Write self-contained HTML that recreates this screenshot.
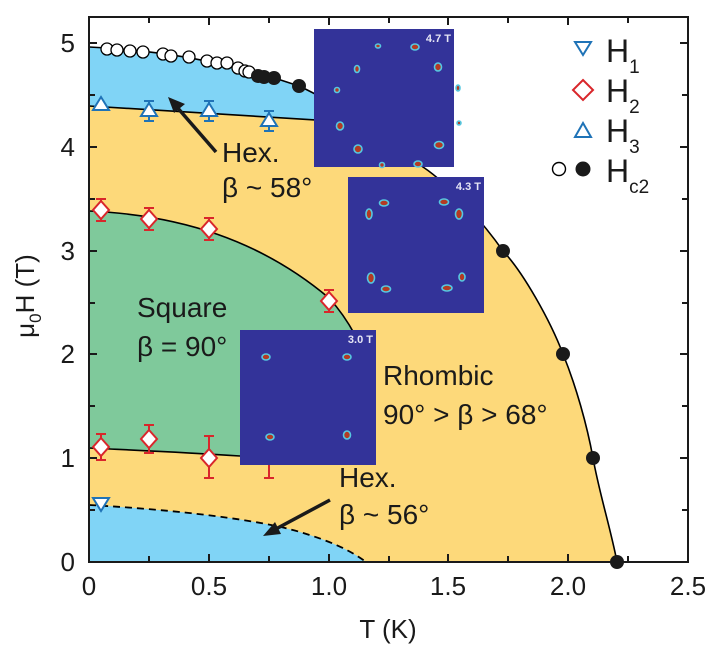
<!DOCTYPE html>
<html><head><meta charset="utf-8"><style>
html,body{margin:0;padding:0;background:#fff;}
svg{display:block;font-family:"Liberation Sans",Arial,sans-serif;}
</style></head><body>
<svg width="726" height="663" viewBox="0 0 726 663" xmlns="http://www.w3.org/2000/svg">
<defs>
<clipPath id="pc"><rect x="89" y="17" width="599" height="545"/></clipPath>
</defs>
<g clip-path="url(#pc)">
<path d="M89,47 Q200,52 299,86 C340,105 390,140 423,167 C450,185 485,225 503,251 C523,272 550,320 563,354 C576,386 587,425 593,458 C599,492 611,530 617,562 L89,562 Z" fill="#fdd97a"/>
<path d="M89,47 Q200,52 299,86 C340,105 390,140 423,167 L446,167 L446,128 L89,106 Z" fill="#80d4f6"/>
<path d="M89,211 C180,215 260,240 329,298 C340,310 348,322 355,335 L355,460 L240,456 C180,452 130,450 89,448 Z" fill="#7fc99b"/>
<path d="M89,505 C180,510 260,520 300,532 C330,541 350,550 366,562 L89,562 Z" fill="#80d4f6"/>
<path d="M89,47 Q200,52 299,86 C340,105 390,140 423,167 C450,185 485,225 503,251 C523,272 550,320 563,354 C576,386 587,425 593,458 C599,492 611,530 617,562" fill="none" stroke="#000" stroke-width="1.6"/>
<path d="M89,106 L446,128" fill="none" stroke="#000" stroke-width="1.6"/>
<path d="M89,211 C180,215 260,240 329,298 C340,310 348,322 355,335" fill="none" stroke="#000" stroke-width="1.6"/>
<path d="M89,448 C130,450 180,452 240,456" fill="none" stroke="#000" stroke-width="1.6"/>
<path d="M89,505 C180,510 260,520 300,532 C330,541 350,550 366,562" fill="none" stroke="#000" stroke-width="1.8" stroke-dasharray="7,5"/>
</g>
<g stroke="#000" stroke-width="1.3" fill="#fff">
<circle cx="107" cy="49" r="6"/><circle cx="117" cy="50" r="6"/><circle cx="130" cy="51" r="6"/><circle cx="143" cy="52" r="6"/><circle cx="163" cy="54" r="6"/><circle cx="171" cy="56" r="6"/><circle cx="189" cy="57" r="6"/><circle cx="207" cy="61" r="6"/><circle cx="217" cy="63" r="6"/><circle cx="227" cy="63" r="6"/><circle cx="238" cy="68" r="6"/><circle cx="245" cy="71" r="6"/><circle cx="249" cy="72" r="6"/>
</g>
<g fill="#1a1a1a">
<circle cx="258" cy="76" r="7"/><circle cx="264" cy="77" r="7"/><circle cx="274" cy="78" r="7"/><circle cx="299" cy="86" r="7"/>
<circle cx="503" cy="251" r="7"/><circle cx="563" cy="354" r="7"/><circle cx="593" cy="458" r="7"/><circle cx="617" cy="562" r="7"/>
</g>
<g stroke="#1f73b7" stroke-width="2" fill="#fff">
<path d="M144,101 h10 M149,101 v20 M144,121 h10 M204,101 h10 M209,101 v20 M204,121 h10 M264,111 h10 M269,111 v20 M264,131 h10"/>
<path d="M101,97 l8,13 h-16 z"/><path d="M149,103 l8,13 h-16 z"/><path d="M209,103 l8,13 h-16 z"/><path d="M269,113 l8,13 h-16 z"/>
</g>
<g stroke="#d9262b" stroke-width="2" fill="#fff">
<path d="M96,199 h10 M101,199 v22 M96,221 h10 M144,208 h10 M149,208 v22 M144,230 h10 M204,218 h10 M209,218 v22 M204,240 h10 M324,290 h10 M329,290 v22 M324,312 h10"/>
<path d="M96,434 h10 M101,434 v26 M96,460 h10 M144,425 h10 M149,425 v28 M144,453 h10 M204,436 h10 M209,436 v42 M204,478 h10 M264,420 h10 M269,420 v58 M264,478 h10"/>
<path d="M101,201 l8,9 l-8,9 l-8,-9 z"/><path d="M149,210 l8,9 l-8,9 l-8,-9 z"/><path d="M209,220 l8,9 l-8,9 l-8,-9 z"/><path d="M329,292 l8,9 l-8,9 l-8,-9 z"/>
<path d="M101,438 l8,9 l-8,9 l-8,-9 z"/><path d="M149,430 l8,9 l-8,9 l-8,-9 z"/><path d="M209,449 l8,9 l-8,9 l-8,-9 z"/>
</g>
<path d="M93,498 h16 l-8,13 z" fill="#fff" stroke="#1f73b7" stroke-width="2"/>
<g>
<rect x="314" y="29" width="140" height="138" fill="#333399"/>
<rect x="348" y="177" width="136" height="136" fill="#333399"/>
<rect x="240" y="330" width="136" height="135" fill="#333399"/>
<g fill="#b43a22" stroke="#56c8e0" stroke-width="1.6">
<ellipse cx="378" cy="46" rx="2.5" ry="2"/><ellipse cx="415" cy="47" rx="4" ry="3"/><ellipse cx="357" cy="69" rx="2.5" ry="3.5"/><ellipse cx="438" cy="67" rx="3.5" ry="4"/><ellipse cx="337" cy="90" rx="2.5" ry="2.5"/><ellipse cx="458" cy="88" rx="2" ry="3"/><ellipse cx="340" cy="126" rx="3.5" ry="4"/><ellipse cx="459" cy="123" rx="2" ry="2"/><ellipse cx="358" cy="149" rx="4" ry="4"/><ellipse cx="439" cy="145" rx="4.5" ry="3.5"/><ellipse cx="382" cy="165" rx="2.5" ry="2.5"/><ellipse cx="418" cy="164" rx="4" ry="3"/>
<ellipse cx="384" cy="203" rx="4.5" ry="3"/><ellipse cx="444" cy="202" rx="4.5" ry="3"/><ellipse cx="369" cy="214" rx="3" ry="5"/><ellipse cx="459" cy="214" rx="3.5" ry="5"/><ellipse cx="371" cy="278" rx="3.5" ry="5"/><ellipse cx="462" cy="277" rx="3" ry="4"/><ellipse cx="386" cy="289" rx="4.5" ry="3"/><ellipse cx="447" cy="288" rx="5" ry="3"/>
<ellipse cx="266" cy="357" rx="4" ry="3"/><ellipse cx="347" cy="357" rx="4" ry="3"/><ellipse cx="270" cy="437" rx="4" ry="3"/><ellipse cx="347" cy="435" rx="3.5" ry="4"/>
</g>
<g fill="#e6e6f5" font-size="11" font-weight="bold" text-anchor="end">
<text x="451" y="42">4.7 T</text><text x="481" y="190">4.3 T</text><text x="373" y="343">3.0 T</text>
</g>
</g>
<g stroke="#1a1a1a" stroke-width="3.5" fill="#1a1a1a">
<line x1="216" y1="152" x2="176" y2="106"/><path d="M168,97 l17,7 l-11,9 z" stroke="none"/>
<line x1="330" y1="500" x2="274" y2="530"/><path d="M263,536 l12,-14 l6,12 z" stroke="none"/>
</g>
<g fill="#1a1a1a" font-size="28">
<text x="222" y="162">Hex.</text><text x="222" y="197">β ~ 58°</text>
<text x="137" y="317">Square</text><text x="137" y="356">β = 90°</text>
<text x="383" y="385">Rhombic</text><text x="383" y="424">90° &gt; β &gt; 68°</text>
<text x="339" y="487">Hex.</text><text x="339" y="524">β ~ 56°</text>
</g>
<rect x="89" y="17" width="599" height="545" fill="none" stroke="#1a1a1a" stroke-width="2"/>
<g stroke="#1a1a1a" stroke-width="2">
<path d="M89,562 v-8 M149,562 v-6 M209,562 v-8 M269,562 v-6 M329,562 v-8 M389,562 v-6 M448,562 v-8 M508,562 v-6 M568,562 v-8 M628,562 v-6"/>
<path d="M149,17 v6 M209,17 v8 M269,17 v6 M329,17 v8 M389,17 v6 M448,17 v8 M508,17 v6 M568,17 v8 M628,17 v6"/>
<path d="M89,43 h8 M89,95 h6 M89,147 h8 M89,199 h6 M89,251 h8 M89,303 h6 M89,354 h8 M89,406 h6 M89,458 h8 M89,510 h6"/>
<path d="M688,43 h-8 M688,95 h-6 M688,147 h-8 M688,199 h-6 M688,251 h-8 M688,303 h-6 M688,354 h-8 M688,406 h-6 M688,458 h-8 M688,510 h-6"/>
</g>
<g fill="#1a1a1a" font-size="26" text-anchor="middle">
<text x="89" y="595">0</text><text x="209" y="595">0.5</text><text x="329" y="595">1.0</text><text x="448" y="595">1.5</text><text x="568" y="595">2.0</text><text x="688" y="595">2.5</text>
</g>
<g fill="#1a1a1a" font-size="26" text-anchor="end">
<text x="75" y="52">5</text><text x="75" y="156">4</text><text x="75" y="260">3</text><text x="75" y="363">2</text><text x="75" y="467">1</text><text x="75" y="571">0</text>
</g>
<text x="388" y="638" font-size="26" text-anchor="middle" fill="#1a1a1a">T (K)</text>
<text transform="translate(34,296) rotate(-90)" font-size="26" text-anchor="middle" fill="#1a1a1a">μ<tspan font-size="17" dy="7">0</tspan><tspan dy="-7">H (T)</tspan></text>
<path d="M575,42 h16 l-8,13 z" fill="#fff" stroke="#1f73b7" stroke-width="2"/>
<path d="M583,80 l10,10 l-10,10 l-10,-10 z" fill="#fff" stroke="#d9262b" stroke-width="2"/>
<path d="M583,123 l8,14 h-16 z" fill="#fff" stroke="#1f73b7" stroke-width="2"/>
<circle cx="559" cy="169" r="6.5" fill="#fff" stroke="#000" stroke-width="1.4"/>
<circle cx="583" cy="169" r="7.5" fill="#1a1a1a"/>
<g fill="#1a1a1a" font-size="32">
<text x="606" y="62">H<tspan font-size="19" dy="11">1</tspan></text>
<text x="606" y="102">H<tspan font-size="19" dy="11">2</tspan></text>
<text x="606" y="142">H<tspan font-size="19" dy="11">3</tspan></text>
<text x="606" y="182">H<tspan font-size="19" dy="11">c2</tspan></text>
</g>
</svg>
</body></html>
